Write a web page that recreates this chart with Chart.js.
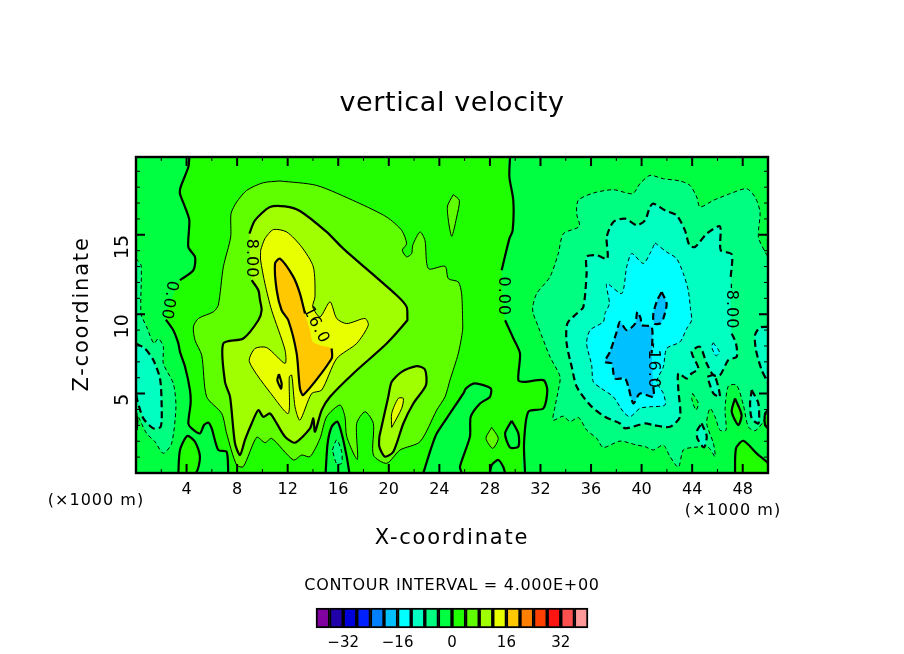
<!DOCTYPE html>
<html>
<head>
<meta charset="utf-8">
<title>vertical velocity</title>
<script src="https://cdn.jsdelivr.net/npm/chart.js@4/dist/chart.umd.js"></script>
<style>
  html, body { margin: 0; padding: 0; background: #fff; }
  #wrap { position: relative; width: 904px; height: 654px; overflow: hidden; }
  #myChart { position: absolute; left: 0; top: 0; }
  #colorBar { position: absolute; left: 300px; top: 598px; }
</style>
</head>
<body>
<div id="wrap">
  <canvas id="myChart" width="904" height="654"></canvas>
  <canvas id="colorBar" width="304" height="56"></canvas>
</div>
<script>
// Axis values
const xMin = 0, xMax = 50, zMin = 0, zMax = 19.9;
const xTicks = [2,4,6,8,10,12,14,16,18,20,22,24,26,28,30,32,34,36,38,40,42,44,46,48,50];
const xTickLabels = [4,8,12,16,20,24,28,32,36,40,44,48];
const zTicks = [1,2,3,4,5,6,7,8,9,10,11,12,13,14,15,16,17,18,19];
const zTickLabels = [5,10,15];

// Colour key
const barLevels = [-38,-34,-30,-26,-22,-18,-14,-10,-6,-2,2,6,10,14,18,22,26,30,34,38];
const barColors = ['#8000a0','#2000a8','#0000d8','#0020ff','#0080ff','#00c0ff','#00ffff','#00ffc0','#00ff80','#00ff40',
                   '#20ff00','#60ff00','#a0ff00','#e8ff00','#ffc800','#ff8000','#ff4000','#ff1414','#ff5050','#ff9898'];
const barTicks = [-32,-16,0,16,32];

// Contours, as [x, z] pairs in plot units
const zeroLeftTop = [[4.22,19.9],[4.14,19.27],[3.53,18.0],[3.48,17.59],[3.88,16.75],[4.22,15.91],[4.14,14.23],[4.67,13.6],[4.54,12.77],[3.48,12.14]];
const zeroLeftLow = [[2.37,9.66],[2.95,8.99],[3.35,8.16],[3.48,7.63],[3.88,6.69],[4.27,5.22],[4.32,4.38],[4.14,3.12],[4.4,2.81],[5.06,2.49],[5.38,3.02],[5.73,3.17],[5.99,2.81],[6.51,1.45],[7.17,1.34],[7.3,0]];
const zeroBump = [[3.35,0],[3.48,1.45],[4.06,2.33],[4.67,1.97],[5.06,1.03],[4.72,0]];
const zeroEdge = [[0,3.75],[0.1,3.3],[0.05,2.7]];
const minus4Left = [[0,13.5],[0.4,13.08],[0.4,10.04],[0.84,9.2],[1.42,8.16],[1.77,8.47],[2.16,7.95],[2.16,6.9],[2.95,5.64],[3.16,4.17],[2.82,1.87],[2.16,1.24],[1.5,1.97],[0.84,2.49],[0.32,3.33],[0,3.96]];
const minus8Left = [[0,8.15],[0.71,7.84],[1.37,7.11],[1.9,5.95],[2.03,4.17],[1.95,2.91],[1.37,2.81],[0.58,3.44],[0.1,4.59],[0,5]];

const plus4Main = [[11.39,18.39],[14.29,18.11],[17.46,17.06],[19.83,16.12],[21.02,15.28],[21.41,14.44],[21.07,14.03],[21.41,13.61],[21.81,13.82],[21.89,14.34],[22.47,15.18],[22.86,14.65],[23.13,12.87],[24.45,13.02],[24.71,12.24],[25.5,12.03],[25.76,11.3],[25.84,9.62],[25.84,8.99],[25.5,7.53],[24.84,5.85],[24.45,4.8],[23.79,3.96],[22.47,1.97],[20.89,1.45],[19.83,0.61],[18.78,1.13],[18.78,3.12],[18.12,3.86],[17.46,3.12],[17.51,0.86],[16.67,2.29],[16.53,3.54],[16.14,4.28],[15.08,3.54],[14.56,2.18],[13.77,1.03],[13.11,1.13],[12.45,0.82],[10.73,2.18],[10.21,1.91],[9.55,2.25],[8.49,0.4],[7.96,0.5],[7.17,2.49],[6.78,3.75],[5.59,4.8],[5.2,7.42],[4.67,8.36],[4.54,9.2],[4.93,9.73],[6.12,10.15],[6.51,10.57],[6.91,12.98],[7.49,14.86],[7.52,16.33],[7.96,17.06],[8.76,17.8],[10.07,18.28]];
const plus4Top = [[25.1,17.53],[25.58,17.17],[25.37,16.12],[24.97,14.91],[24.63,16.75]];
const plus4Low = [[28.14,2.87],[28.66,2.18],[28.22,1.55],[27.69,2.18]];

const plus8Top = [[8.97,15.07],[9.41,15.91],[10.6,16.75],[11.79,16.79],[12.97,16.5],[15.08,15.18],[16.4,14.13],[20.62,11.19],[21.41,10.46],[21.47,9.73],[21.47,9.62],[19.83,8.16],[17.19,6.27],[15.35,4.8],[14.69,3.96],[14.16,2.6],[14.03,3.44],[13.77,2.81],[12.58,1.91],[11.79,2.29],[11.13,3.12],[10.6,3.75],[10.07,3.54],[9.68,3.96],[9.15,3.12],[8.62,2.08],[8.23,1.13],[7.83,1.87],[7.44,4.8],[7.04,5.74],[6.91,8.16],[8.49,8.47],[9.68,9.62],[9.94,10.25],[9.81,10.88],[9.68,11.51],[9.15,12.14]];
const plus8Low = [[19.25,2.29],[19.96,4.8],[20.23,5.74],[21.02,6.37],[22.2,6.73],[22.86,6.52],[22.94,5.53],[21.94,4.38],[21.15,3.12],[20.36,1.34],[19.7,1.03],[19.25,1.66]];

const plus12Main = [[9.86,14.03],[10.2,14.76],[10.87,15.33],[11.92,15.18],[13.11,14.23],[14.03,12.98],[14.16,11.09],[13.98,10.46],[14.56,9.83],[15.35,10.78],[15.88,9.73],[16.67,9.41],[18.12,9.73],[18.38,9.31],[17.46,8.16],[15.88,7.21],[14.69,5.22],[13.9,5.01],[12.97,3.33],[12.58,4.17],[12.32,6.16],[12.13,6.06],[12.05,3.75],[10.87,4.8],[8.97,7.0],[9.41,7.84],[10.34,7.9],[11.79,6.9],[11.79,7.74],[10.73,10.25],[10.2,11.93],[9.86,13.4]];
const plus12Low = [[20.23,2.87],[20.23,3.75],[20.75,4.7],[21.15,4.7],[21.02,4.07]];

const plus16Top = [[13.37,10.04],[12.97,11.3],[12.45,12.35],[11.39,13.5],[11.0,13.19],[11.13,11.51],[11.52,10.25],[12.05,9.62],[12.71,7.53],[12.97,5.32],[13.24,4.91],[15.48,7.21],[15.48,7.84]];
const plus16Gap = [[14.56,8.05],[13.98,8.26],[13.77,8.99]];
const plus16Loop = [[11.31,6.23],[11.52,5.64],[11.47,5.32],[11.18,5.85]];

const zeroRightTop = [[29.59,19.9],[29.54,18.64],[29.85,17.17],[29.8,15.28],[29.54,14.76],[28.93,12.77]];
const zeroRightLow = [[29.2,9.62],[29.86,8.47],[30.38,7.53],[30.25,5.85],[30.77,5.74],[32.23,5.85],[32.54,5.22],[32.23,4.07],[31.04,3.86],[30.7,1.87],[30.78,0]];
const zeroSag = [[22.73,0],[23.39,1.66],[23.79,2.49],[24.84,3.75],[25.9,5.01],[26.11,5.33],[26.82,5.64],[28.06,5.33],[28.0,4.8],[27.22,4.38],[26.48,3.54],[26.42,2.29],[25.63,0.4],[25.77,0]];
const zeroRing = [[29.72,3.29],[30.25,2.49],[30.25,1.66],[29.59,1.61],[29.2,2.49]];
const zeroHill = [[28.0,0],[28.14,0.5],[28.66,0.82],[29.05,0.4],[29.2,0]];
const zeroSpike = [[15.0,0],[15.16,1.87],[15.48,2.91],[15.93,3.23],[16.27,2.49],[16.67,1.03],[16.88,0]];
const minus4Spike = [[15.53,1.45],[15.88,2.08],[16.27,1.34],[16.27,0.61],[15.88,0.57]];

const minus4Main = [[40.66,18.74],[41.72,18.53],[43.04,18.39],[43.83,18.11],[44.36,17.38],[44.62,16.75],[45.68,17.17],[47,17.59],[48.31,17.9],[48.97,17.38],[49.37,16.44],[49.24,14.86],[49.77,13.92],[50,13.6],[50,3.9],[49.63,3.23],[48.97,2.66],[48.44,2.91],[48.05,4.28],[47.52,5.53],[46.86,5.47],[46.6,3.96],[46.68,2.7],[46.2,2.7],[45.81,3.54],[45.41,4.07],[45.15,3.12],[45.68,1.87],[45.81,1.03],[45.28,1.61],[44.09,1.61],[43.3,1.45],[42.91,0.36],[42.25,1.03],[41.72,1.76],[40.93,1.45],[40.27,1.66],[39.61,1.76],[38.29,2.01],[36.97,1.61],[36.45,2.18],[35.66,2.7],[35.0,3.5],[34.34,3.23],[33.81,3.58],[33.0,3.33],[33.15,4.17],[33.41,5.22],[33.55,6.06],[32.75,7.32],[31.83,9.2],[31.43,10.04],[31.38,10.46],[31.7,11.3],[32.75,12.35],[33.41,13.82],[33.81,15.07],[35.07,15.53],[34.86,16.33],[34.99,17.17],[36.18,17.63],[37.76,17.84],[39.29,17.59],[39.87,18.22]];
const minus8Top = [[47.05,12.35],[47.13,13.77],[46.26,14.03],[46.2,15.53],[45.15,15.07],[44.22,14.23],[43.78,14.34],[43.43,15.28],[42.77,16.23],[41.85,16.54],[40.93,16.96],[40.66,16.75],[40.27,15.91],[39.61,15.6],[38.69,16.02],[37.77,15.81],[37.24,14.86],[37.29,13.5],[36.45,13.71],[35.65,13.61],[35.65,12.56],[35.39,10.46],[34.87,10.04],[34.12,9.41],[34.07,8.16],[34.47,6.69],[34.87,5.43],[35.92,4.28],[37.1,3.54],[38.29,3.12],[38.69,2.81],[40.27,3.12],[40.93,3.02],[42.25,2.91],[43.04,3.54],[42.91,5.22],[42.91,6.27],[43.57,5.95],[43.96,6.27],[44.49,6.58],[43.96,7.63],[44.62,7.95],[45.15,6.9],[45.68,6.16],[46.2,6.16],[46.86,7.11],[47.52,7.32],[47.47,8.16],[47.13,8.78]];
const minus8Edge = [[50,9.2],[49.36,9.16],[48.97,8.68],[49.05,7.74],[49.5,6.48],[50,5.7]];
const minus8Ring = [[48.71,5.22],[49.24,4.38],[49.24,3.12],[48.71,3.44],[48.58,4.38]];
const minus8Pocket = [[45.2,6.06],[45.75,6.16],[46.2,4.8],[45.68,5.01]];
const minus8Small = [[44.75,3.12],[45.15,2.33],[44.94,1.61],[44.41,2.18],[44.41,2.7]];
const minus4Small = [[44.04,5.01],[44.49,4.38],[44.3,3.96],[43.96,4.7]];
const minus12Main = [[41.06,14.49],[41.98,13.92],[42.77,13.5],[43.3,12.56],[43.69,11.51],[43.88,10.25],[43.96,9.62],[43.57,9.1],[43.04,8.26],[41.99,7.84],[41.72,6.69],[41.2,5.74],[41.72,5.01],[41.85,4.28],[40.66,4.17],[39.87,4.07],[39.08,3.54],[38.55,3.86],[37.76,4.8],[36.83,5.32],[36.18,5.74],[36.05,6.79],[35.65,8.16],[35.92,8.99],[36.97,9.52],[37.1,10.04],[37.45,10.67],[37.24,11.93],[38.43,11.3],[38.82,12.98],[39.22,13.82],[40.14,13.19],[40.66,13.82]];
const minus12Small = [[45.67,8.2],[46.15,7.63],[45.89,7.38],[45.54,7.95]];
const minus16Main = [[40.93,5.43],[40.93,4.8],[39.87,5.01],[39.35,4.38],[38.95,5.43],[38.69,5.95],[37.89,5.95],[37.63,6.9],[37.1,7.0],[37.5,7.63],[38.03,8.89],[38.29,9.52],[38.82,8.99],[39.49,9.41],[39.66,10.15],[39.93,9.73],[40,9.31],[40.8,9.2],[40.8,7.53]];
const minus16Small = [[41.59,11.4],[41.98,10.67],[41.72,9.73],[41.46,9.41],[40.99,9.41],[40.93,10.04],[41.24,10.88]];
const zeroRightBump = [[47.39,0],[47.47,1.55],[48.05,2.03],[49.1,1.24],[49.89,0.71],[50,0.6]];
const zeroRightRing = [[47.39,4.7],[47.91,3.65],[47.65,3.02],[47.13,3.86]];
const zeroRightEdge = [[50,3.96],[49.77,3.75],[49.77,3.02],[50,2.81]];

// Contour labels along the lines
const labelTexts = ['0.00','8.00','16.0','0.00','-16.0','-8.00'];
const labelX = [2.61,9.1,14.24,29.04,40.9,47.1];
const labelZ = [10.88,13.5,9.31,11.13,6.75,10.5];
const labelAngles = [100,90,63,90,90,90];

const plotArea = { left: 136, right: 768, top: 157, bottom: 473 };
const curve = 0.25;

function closed(points) {
    return points.concat([points[0]]);
}

//Filled band, drawn in order so later bands sit on top of earlier ones
function band(points, color, tension) {
    return {
        data: closed(points),
        fill: 'shape',
        backgroundColor: color,
        borderWidth: 0,
        pointRadius: 0,
        showLine: true,
        tension: tension === undefined ? curve : tension
    };
}

//Contour line. Thick lines every second level, negative levels dashed
function line(points, thick, dashed) {
    return {
        data: points,
        fill: false,
        borderColor: '#000',
        borderWidth: thick ? 2.2 : 1,
        borderDash: dashed ? (thick ? [7, 4] : [4, 3]) : [],
        pointRadius: 0,
        showLine: true,
        tension: curve
    };
}

const c = {
    base: barColors[10], neg4: barColors[9], neg8: barColors[8], neg12: barColors[7],
    neg16: barColors[6], neg20: barColors[5], pos4: barColors[11], pos8: barColors[12],
    pos12: barColors[13], pos16: barColors[14]
};

const datasets = [
    band([[xMin,zMin],[xMax,zMin],[xMax,zMax],[xMin,zMax]], c.base, 0),
    band([[xMin,zMax]].concat(zeroLeftTop, zeroLeftLow, [[xMin,zMin]]), c.neg4),
    band(minus4Left, c.neg8),
    band(minus8Left, c.neg12),
    band(zeroBump, c.base),
    band([[50,19.9]].concat(zeroRightTop, zeroRightLow, [[50,0]]), c.neg4),
    band(plus4Main, c.pos4),
    band(plus4Top, c.pos4),
    band(plus4Low, c.pos4),
    band(zeroSag, c.neg4),
    band(zeroRing, c.neg4),
    band(zeroHill, c.neg4),
    band(zeroSpike, c.neg4),
    band(minus4Spike, c.neg8),
    band(plus8Top, c.pos8),
    band(plus8Low, c.pos8),
    band(plus12Main, c.pos12),
    band(plus12Low, c.pos12),
    band(plus16Top.concat(plus16Gap), c.pos16),
    band(plus16Loop, c.pos12),
    band(minus4Main, c.neg8),
    band(minus4Small, c.neg4),
    band(zeroRightRing, c.base),
    band(zeroRightEdge, c.base),
    band(zeroRightBump.concat([[50,0]]), c.base),
    band(minus8Top, c.neg12),
    band(minus8Edge, c.neg12),
    band(minus8Ring, c.neg12),
    band(minus8Pocket, c.neg12),
    band(minus8Small, c.neg12),
    band(minus12Main, c.neg16),
    band(minus12Small, c.neg16),
    band(minus16Main, c.neg20),
    band(minus16Small, c.neg20),

    line(zeroLeftTop, true, false),
    line(zeroLeftLow, true, false),
    line(closed(zeroBump), true, false),
    line(zeroEdge, true, false),
    line(closed(minus4Left), false, true),
    line(minus8Left, true, true),
    line(closed(plus4Main), false, false),
    line(closed(plus4Top), false, false),
    line(closed(plus4Low), false, false),
    line(plus8Top, true, false),
    line(closed(plus8Low), true, false),
    line(closed(plus12Main), false, false),
    line(closed(plus12Low), false, false),
    line(plus16Top, true, false),
    line(closed(plus16Loop), true, false),
    line(zeroRightTop, true, false),
    line(zeroRightLow, true, false),
    line(zeroSag, true, false),
    line(closed(zeroRing), true, false),
    line(zeroHill, true, false),
    line(zeroSpike, true, false),
    line(closed(minus4Spike), false, true),
    line(minus4Main.slice(14).concat(minus4Main.slice(0, 14)), false, true),
    line(closed(minus4Small), false, true),
    line(closed(zeroRightRing), true, false),
    line(zeroRightEdge, true, false),
    line(zeroRightBump, true, false),
    line(minus8Top, true, true),
    line(minus8Edge, true, true),
    line(closed(minus8Ring), true, true),
    line(closed(minus8Pocket), true, true),
    line(closed(minus8Small), true, true),
    line(closed(minus12Main), false, true),
    line(closed(minus12Small), false, true),
    line(minus16Main, true, true),
    line(closed(minus16Small), true, true)
];

//Chart.js paints the first dataset last, so flip the list to keep the painter order above
datasets.reverse();

//Writes a text with the wide spacing of the original plot font
function writeText(ctx, text, x, y, font, spacing, angle) {
    ctx.save();
    ctx.translate(x, y);
    ctx.rotate((angle || 0) * Math.PI / 180);
    ctx.font = font;
    ctx.letterSpacing = spacing + 'px';
    ctx.fillStyle = '#000';
    ctx.textAlign = 'center';
    ctx.textBaseline = 'middle';
    ctx.fillText(text, 0, 0);
    ctx.restore();
}

//Draws the frame, inward ticks, contour labels and the free texts
const framePlugin = {
    id: 'frame',
    afterDatasetsDraw(chart) {
        const ctx = chart.ctx;
        const area = chart.chartArea;
        const xs = chart.scales.x;
        const ys = chart.scales.y;

        ctx.save();
        ctx.strokeStyle = '#000';
        xTicks.forEach(v => {
            const px = xs.getPixelForValue(v);
            const major = v % 4 === 0;
            const len = major ? 9 : 4;
            ctx.lineWidth = major ? 2 : 1;
            ctx.beginPath();
            ctx.moveTo(px, area.bottom); ctx.lineTo(px, area.bottom - len);
            ctx.moveTo(px, area.top); ctx.lineTo(px, area.top + len);
            ctx.stroke();
        });
        zTicks.forEach(v => {
            const py = ys.getPixelForValue(v);
            const major = v % 5 === 0;
            const len = major ? 9 : 4;
            ctx.lineWidth = major ? 2 : 1;
            ctx.beginPath();
            ctx.moveTo(area.left, py); ctx.lineTo(area.left + len, py);
            ctx.moveTo(area.right, py); ctx.lineTo(area.right - len, py);
            ctx.stroke();
        });
        ctx.lineWidth = 2.4;
        ctx.strokeRect(area.left, area.top, area.right - area.left, area.bottom - area.top);
        ctx.restore();

        labelTexts.forEach((text, i) => {
            writeText(ctx, text, xs.getPixelForValue(labelX[i]), ys.getPixelForValue(labelZ[i]), '16px "DejaVu Sans"', 1, labelAngles[i]);
        });

        writeText(ctx, 'vertical velocity', 452, 104, '27px "DejaVu Sans"', 0.6, 0);
        writeText(ctx, 'X-coordinate', 452, 539, '21px "DejaVu Sans"', 1.8, 0);
        writeText(ctx, 'Z-coordinate', 83, 314, '21px "DejaVu Sans"', 1.8, -90);
        writeText(ctx, '(\u00d71000 m)', 96, 501, '16px "DejaVu Sans"', 1, 0);
        writeText(ctx, '(\u00d71000 m)', 733, 511, '16px "DejaVu Sans"', 1, 0);
        writeText(ctx, 'CONTOUR INTERVAL = 4.000E+00', 452, 586, '16px "DejaVu Sans"', 0.7, 0);
    }
};

new Chart(document.getElementById('myChart'), {
    type: 'scatter',
    data: { datasets: datasets },
    plugins: [framePlugin],
    options: {
        responsive: false,
        animation: false,
        layout: { padding: { left: 0, top: plotArea.top, right: 904 - plotArea.right, bottom: 0 } },
        plugins: { legend: { display: false }, tooltip: { enabled: false } },
        scales: {
            x: {
                type: 'linear',
                min: xMin,
                max: xMax,
                grid: { display: false, drawTicks: false },
                border: { display: false },
                afterBuildTicks: scale => { scale.ticks = xTicks.map(v => ({ value: v })); },
                afterFit: scale => { scale.height = 654 - plotArea.bottom; },
                ticks: {
                    autoSkip: false,
                    maxRotation: 0,
                    padding: 7,
                    color: '#000',
                    font: { family: 'DejaVu Sans', size: 16 },
                    callback: v => xTickLabels.includes(v) ? String(v) : ''
                }
            },
            y: {
                type: 'linear',
                min: zMin,
                max: zMax,
                grid: { display: false, drawTicks: false },
                border: { display: false },
                afterBuildTicks: scale => { scale.ticks = zTicks.map(v => ({ value: v })); },
                afterFit: scale => { scale.width = plotArea.left; },
                ticks: {
                    autoSkip: false,
                    minRotation: 90,
                    maxRotation: 90,
                    padding: 13,
                    color: '#000',
                    font: { family: 'DejaVu Sans', size: 19 },
                    callback: v => zTickLabels.includes(v) ? String(v) : ''
                }
            }
        }
    }
});

//Colour key under the plot
new Chart(document.getElementById('colorBar'), {
    type: 'bar',
    data: {
        datasets: [{
            data: barLevels.map(v => ({ x: v, y: 1 })),
            backgroundColor: barColors,
            borderColor: '#000',
            borderWidth: 2,
            borderSkipped: false,
            barPercentage: 1,
            categoryPercentage: 1,
            clip: 6
        }]
    },
    options: {
        responsive: false,
        animation: false,
        layout: { padding: { left: 16, right: 16, top: 10, bottom: 0 } },
        plugins: { legend: { display: false }, tooltip: { enabled: false } },
        scales: {
            x: {
                type: 'linear',
                min: -40,
                max: 40,
                offset: false,
                grid: { display: false, drawTicks: false, offset: false },
                border: { display: false },
                afterBuildTicks: scale => { scale.ticks = barTicks.map(v => ({ value: v })); },
                afterFit: scale => { scale.height = 26; },
                ticks: {
                    autoSkip: false,
                    maxRotation: 0,
                    padding: 6,
                    color: '#000',
                    font: { family: 'DejaVu Sans', size: 15 },
                    callback: v => v < 0 ? '\u2212' + Math.abs(v) : String(v)
                }
            },
            y: { display: false, min: 0, max: 1 }
        }
    }
});
</script>
</body>
</html>
